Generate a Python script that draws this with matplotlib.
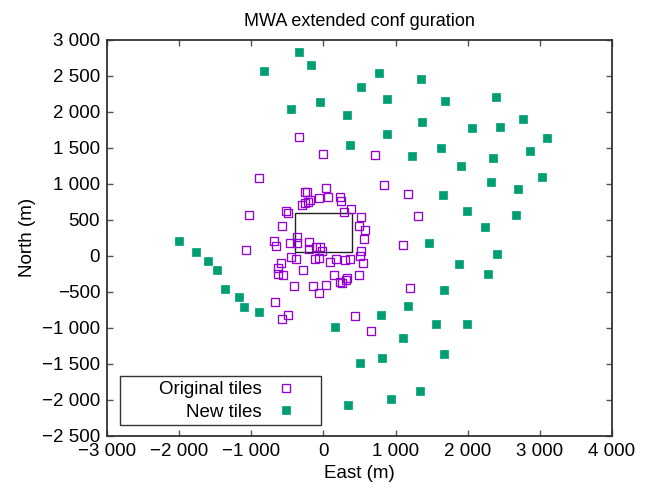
import matplotlib
matplotlib.use('Agg')
import matplotlib.pyplot as plt
from matplotlib.ticker import FuncFormatter, MultipleLocator
from matplotlib.patches import Rectangle

plt.rcParams['font.family'] = ['Liberation Sans', 'DejaVu Sans']

# Original tiles (East, North) in metres
orig_east = [0, 711, -891, 836, 1174, 32, -259, -231, -65, 60, 226, 240, -180, -217,
             -254, -300, -522, -494, -1026, 282, 379, 527, 490, 573, 555, 522, 504, 545,
             -578, -689, -652, -1081, -467, -370, -365, -198, -198, -97, -55, -23, -65,
             -120, -453, -384, -587, -633, -633, -564, -286, 88, 176, 296, 370, 152, 231,
             254, 328, 314, 499, -412, -143, 32, -65, -675, -485, -578, 439, 652, 1197,
             1100, 1308, -333]
orig_north = [1412, 1403, 1083, 986, 857, 949, 884, 893, 810, 815, 815, 764, 778, 745,
              731, 704, 630, 597, 569, 616, 648, 537, 417, 357, 241, 74, -5, -97,
              412, 208, 134, 83, 180, 259, 176, 190, 102, 120, 125, 74, -23,
              -42, -19, -46, -102, -171, -255, -264, -199, -83, -46, -56, -42, -269, -366,
              -375, -310, -329, -269, -412, -421, -407, -509, -644, -824, -870, -838, -1042, -449,
              148, 551, 1657]

# New tiles (East, North) in metres
new_east = [-2000, -1770, -1604, -1474, -1368, -1174, -1099, -887,
            -333, -176, -827, -51, -453,
            776, 1358, 522, 878, 1687, 2398, 328, 1372, 2056, 2444, 2768, 878, 3105,
            365, 1631, 1224, 2347, 2869, 1909, 2329, 3026, 2698, 1654, 1992, 2671, 2236,
            166, 337, 513, 804, 808, 933, 1109, 1178, 1335, 1562, 1668, 1677, 1992,
            1881, 2287, 2402, 1469]
new_north = [204, 51, -65, -194, -458, -574, -704, -782,
             2833, 2648, 2565, 2143, 2042,
             2537, 2458, 2352, 2181, 2157, 2213, 1963, 1866, 1773, 1787, 1907, 1690, 1643,
             1537, 1495, 1389, 1366, 1454, 1250, 1028, 1097, 931, 847, 629, 574, 407,
             -991, -2069, -1491, -819, -1412, -1981, -1144, -694, -1870, -940, -1356, -477, -944,
             -106, -250, 23, 176]

# Core region box
box_x, box_y, box_w, box_h = -400, 50, 800, 550

fig = plt.figure(figsize=(6.49, 4.87), dpi=100)
ax = fig.add_axes([0.165, 0.105, 0.778, 0.813])

ax.add_patch(Rectangle((box_x, box_y), box_w, box_h, fill=False, edgecolor='#222222', lw=1.0, zorder=1))
ax.plot(orig_east, orig_north, 's', ls='none', ms=5.2, mfc='none', mec='#9400D3', mew=0.95,
        label='Original tiles', zorder=3)
ax.plot(new_east, new_north, 's', ls='none', ms=5.4, mfc='#009E73', mec='#009E73', mew=0.5,
        label='New tiles', zorder=3)

ax.set_xlim(-3000, 4000)
ax.set_ylim(-2500, 3000)
ax.xaxis.set_major_locator(MultipleLocator(1000))
ax.yaxis.set_major_locator(MultipleLocator(500))

def fmt(v, pos):
    s = '{:,}'.format(int(round(abs(v)))).replace(',', ' ')
    return ('\u2212' + s) if v < 0 else s

ax.xaxis.set_major_formatter(FuncFormatter(fmt))
ax.yaxis.set_major_formatter(FuncFormatter(fmt))
ax.tick_params(direction='in', top=True, right=True, length=4.5, width=1.0,
               color='#555555', labelsize=13.5, pad=5)
for sp in ax.spines.values():
    sp.set_linewidth(1.3)
    sp.set_color('#333333')

ax.set_title('MWA extended conf guration', fontsize=13, pad=10)
ax.set_xlabel('East (m)', fontsize=13.5, labelpad=4)
ax.set_ylabel('North (m)', fontsize=13.5, labelpad=4)

# legend box drawn by hand, entries placed inside
ax.add_patch(Rectangle((0.026, 0.027), 0.398, 0.123, transform=ax.transAxes,
                       facecolor='white', edgecolor='#333333', lw=1.0, zorder=4))
leg = ax.legend(loc='center right', bbox_to_anchor=(0.372, 0.088), frameon=False,
                markerfirst=False, fontsize=13.5, handlelength=1.0, handletextpad=0.75,
                labelspacing=0.3, borderpad=0.0, borderaxespad=0.0)
leg.set_zorder(5)

fig.savefig('out.png', dpi=100)
